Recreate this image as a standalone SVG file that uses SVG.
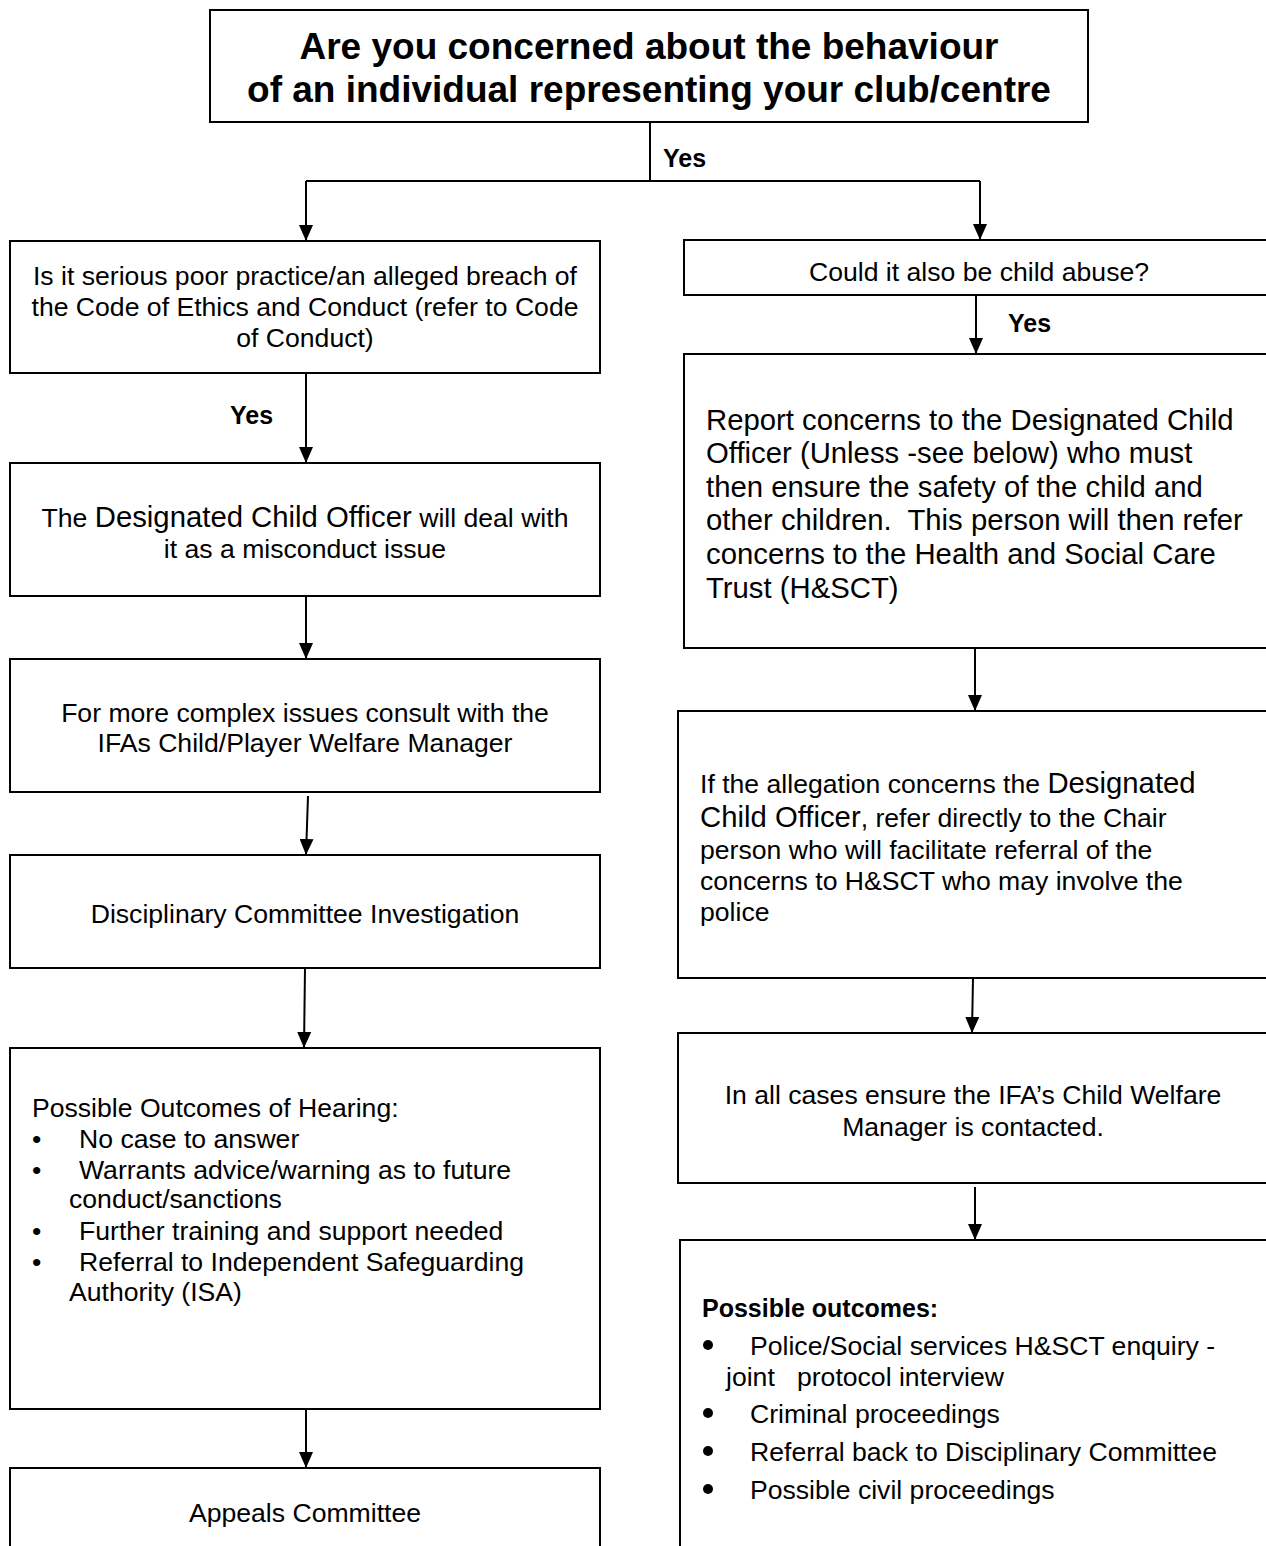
<svg xmlns="http://www.w3.org/2000/svg" width="1266" height="1546" viewBox="0 0 1266 1546">
<style>
  .box { fill: #ffffff; stroke: #000000; stroke-width: 2; }
  .t { font-family: "Liberation Sans", Arial, sans-serif; font-size: 26.6px; fill: #000000; }
  .big { font-size: 29.3px; }
  .c { text-anchor: middle; }
  .b { font-weight: bold; }
  .title { font-family: "Liberation Sans", Arial, sans-serif; font-size: 37px; font-weight: bold; text-anchor: middle; fill: #000000; }
  .yes { font-family: "Liberation Sans", Arial, sans-serif; font-size: 25px; font-weight: bold; fill: #000000; }
  .conn { stroke: #000000; stroke-width: 2; fill: none; }
  .arr { marker-end: url(#ah); }
</style>
<defs>
  <marker id="ah" viewBox="0 0 16 14" refX="16" refY="7" markerWidth="16" markerHeight="14" markerUnits="userSpaceOnUse" orient="auto">
    <path d="M0,0 L16,7 L0,14 z" fill="#000000"/>
  </marker>
</defs>
<rect width="1266" height="1546" fill="#ffffff"/>

<g id="connectors">
  <polyline class="conn" points="650,122 650,181"/>
  <polyline class="conn" points="306,181 980,181"/>
  <line class="conn arr" x1="306" y1="181" x2="306" y2="241"/>
  <line class="conn arr" x1="980" y1="181" x2="980" y2="240"/>
  <text class="yes" x="663" y="167">Yes</text>
  <line class="conn arr" x1="306" y1="373" x2="306" y2="463"/>
  <text class="yes" x="230" y="424">Yes</text>
  <line class="conn arr" x1="306" y1="596" x2="306" y2="659"/>
  <line class="conn arr" x1="308" y1="796" x2="306" y2="855"/>
  <line class="conn arr" x1="305" y1="968" x2="304" y2="1048"/>
  <line class="conn arr" x1="306" y1="1409" x2="306" y2="1468"/>
  <line class="conn arr" x1="976" y1="295" x2="976" y2="354"/>
  <text class="yes" x="1008" y="332">Yes</text>
  <line class="conn arr" x1="975" y1="648" x2="975" y2="711"/>
  <line class="conn arr" x1="973" y1="978" x2="972" y2="1033"/>
  <line class="conn arr" x1="975" y1="1187" x2="975" y2="1240"/>
</g>

<g id="n-top">
  <rect class="box" x="210" y="10" width="878" height="112"/>
  <text class="title" x="649" y="59">Are you concerned about the behaviour</text>
  <text class="title" x="649" y="102">of an individual representing your club/centre</text>
</g>

<g id="n-serious">
  <rect class="box" x="10" y="241" width="590" height="132"/>
  <text class="t c" x="305" y="285">Is it serious poor practice/an alleged breach of</text>
  <text class="t c" x="305" y="316">the Code of Ethics and Conduct (refer to Code</text>
  <text class="t c" x="305" y="347">of Conduct)</text>
</g>

<g id="n-dco">
  <rect class="box" x="10" y="463" width="590" height="133"/>
  <text class="t c" x="305" y="527">The <tspan class="big">Designated Child Officer</tspan> will deal with</text>
  <text class="t c" x="305" y="558">it as a misconduct issue</text>
</g>

<g id="n-complex">
  <rect class="box" x="10" y="659" width="590" height="133"/>
  <text class="t c" x="305" y="722">For more complex issues consult with the</text>
  <text class="t c" x="305" y="752">IFAs Child/Player Welfare Manager</text>
</g>

<g id="n-disciplinary">
  <rect class="box" x="10" y="855" width="590" height="113"/>
  <text class="t c" x="305" y="923">Disciplinary Committee Investigation</text>
</g>

<g id="n-outcomes-hearing">
  <rect class="box" x="10" y="1048" width="590" height="361"/>
  <text class="t" x="32" y="1117">Possible Outcomes of Hearing:</text>
  <text class="t" x="32" y="1148">•</text>
  <text class="t" x="79" y="1148">No case to answer</text>
  <text class="t" x="32" y="1179">•</text>
  <text class="t" x="79" y="1179">Warrants advice/warning as to future</text>
  <text class="t" x="69" y="1208">conduct/sanctions</text>
  <text class="t" x="32" y="1240">•</text>
  <text class="t" x="79" y="1240">Further training and support needed</text>
  <text class="t" x="32" y="1271">•</text>
  <text class="t" x="79" y="1271">Referral to Independent Safeguarding</text>
  <text class="t" x="69" y="1301">Authority (ISA)</text>
</g>

<g id="n-appeals">
  <rect class="box" x="10" y="1468" width="590" height="90"/>
  <text class="t c" x="305" y="1522">Appeals Committee</text>
</g>

<g id="n-abuse">
  <rect class="box" x="684" y="240" width="590" height="55"/>
  <text class="t c" x="979" y="281">Could it also be child abuse?</text>
</g>

<g id="n-report">
  <rect class="box" x="684" y="354" width="590" height="294"/>
  <text class="t big" x="706" y="430">Report concerns to the Designated Child</text>
  <text class="t big" x="706" y="463">Officer (Unless -see below) who must</text>
  <text class="t big" x="706" y="497">then ensure the safety of the child and</text>
  <text class="t big" x="706" y="530" xml:space="preserve">other children.  This person will then refer</text>
  <text class="t big" x="706" y="564">concerns to the Health and Social Care</text>
  <text class="t big" x="706" y="598">Trust (H&amp;SCT)</text>
</g>

<g id="n-allegation">
  <rect class="box" x="678" y="711" width="596" height="267"/>
  <text class="t" x="700" y="793">If the allegation concerns the <tspan class="big">Designated</tspan></text>
  <text class="t" x="700" y="827"><tspan class="big">Child Officer</tspan>, refer directly to the Chair</text>
  <text class="t" x="700" y="859">person who will facilitate referral of the</text>
  <text class="t" x="700" y="890">concerns to H&amp;SCT who may involve the</text>
  <text class="t" x="700" y="921">police</text>
</g>

<g id="n-contact">
  <rect class="box" x="678" y="1033" width="596" height="150"/>
  <text class="t c" x="973" y="1104">In all cases ensure the IFA’s Child Welfare</text>
  <text class="t c" x="973" y="1136">Manager is contacted.</text>
</g>

<g id="n-outcomes">
  <rect class="box" x="680" y="1240" width="594" height="320"/>
  <text class="yes" x="702" y="1317">Possible outcomes:</text>
  <circle cx="708" cy="1345" r="5" fill="#000000"/>
  <text class="t" x="750" y="1355">Police/Social services H&amp;SCT enquiry -</text>
  <text class="t" x="726" y="1386" xml:space="preserve">joint   protocol interview</text>
  <circle cx="708" cy="1413" r="5" fill="#000000"/>
  <text class="t" x="750" y="1423">Criminal proceedings</text>
  <circle cx="708" cy="1451" r="5" fill="#000000"/>
  <text class="t" x="750" y="1461">Referral back to Disciplinary Committee</text>
  <circle cx="708" cy="1489" r="5" fill="#000000"/>
  <text class="t" x="750" y="1499">Possible civil proceedings</text>
</g>
</svg>
